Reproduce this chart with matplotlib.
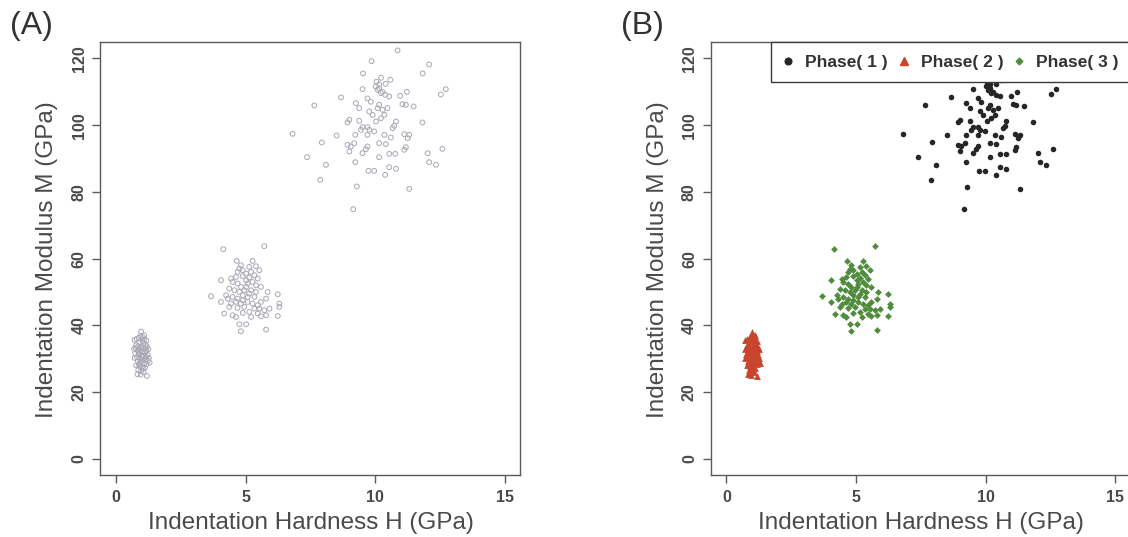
import matplotlib
matplotlib.use("Agg")
import matplotlib.pyplot as plt
from matplotlib.lines import Line2D

plt.rcParams['font.family'] = ['Liberation Sans', 'DejaVu Sans']

# Phase 1: hard phase (H, M in GPa)
phase1_h = [10.86, 9.86, 12.08, 11.83, 9.53, 10.22, 10.58, 10.05, 10.15, 10.40,
            9.51, 10.02, 10.09, 10.22, 10.38, 10.54, 10.15, 10.28, 11.22, 10.96,
            12.53, 12.72, 8.68, 7.65, 9.70, 9.83, 9.25, 9.38, 9.77, 10.15,
            10.09, 10.28, 10.47, 11.05, 11.18, 11.48, 10.35, 10.03, 10.22, 9.90,
            9.00, 8.93, 9.38, 10.80, 10.73, 10.67, 11.82, 9.51, 9.70, 9.77,
            9.96, 9.45, 6.81, 8.51, 9.23, 9.70, 10.35, 10.60, 11.12, 11.31,
            11.25, 7.94, 8.93, 9.06, 9.19, 9.70, 10.15, 10.41, 9.64, 11.18,
            11.12, 9.00, 9.51, 10.54, 10.77, 12.02, 12.59, 7.37, 10.15, 9.23,
            12.08, 12.34, 8.10, 10.54, 10.80, 9.74, 9.96, 10.38, 7.88, 9.29,
            11.31, 9.15]
phase1_m = [122.4, 119.2, 118.2, 115.5, 115.5, 114.2, 113.6, 113.0, 112.2, 112.4,
            110.8, 111.6, 110.6, 109.6, 109.1, 108.6, 111.0, 110.0, 110.0, 108.8,
            109.2, 110.8, 108.3, 105.9, 108.0, 107.0, 106.6, 105.1, 104.1, 106.1,
            105.1, 104.6, 105.1, 106.3, 106.1, 105.6, 103.1, 101.1, 102.1, 103.1,
            101.6, 100.8, 101.3, 101.1, 99.8, 99.1, 100.8, 99.4, 99.4, 98.6,
            98.1, 98.6, 97.4, 96.9, 97.1, 97.1, 97.1, 96.3, 97.3, 97.1,
            96.1, 94.8, 94.1, 93.6, 94.6, 93.6, 94.6, 94.3, 92.8, 93.4,
            92.6, 92.1, 91.6, 91.4, 91.4, 91.6, 92.9, 90.4, 90.4, 88.9,
            88.9, 88.1, 88.1, 87.4, 86.9, 86.3, 86.3, 85.1, 83.6, 81.6,
            80.9, 74.8]

# Phase 2: soft phase
phase2_h = [0.97, 0.72, 0.80, 0.88, 1.02, 1.10, 1.18, 0.92, 1.05, 1.14,
            0.78, 0.86, 0.98, 1.08, 1.20, 1.25, 0.70, 0.83, 0.95, 1.02,
            1.12, 1.17, 0.74, 0.88, 0.99, 1.07, 1.22, 0.72, 0.81, 0.93,
            1.03, 1.15, 1.30, 1.24, 0.85, 0.96, 1.08, 1.18, 0.78, 0.90,
            1.00, 1.12, 0.86, 0.97, 1.06, 0.83, 1.19, 0.95, 1.03, 0.91,
            1.13, 1.00, 0.94, 1.09, 0.76, 1.27, 0.89, 1.04, 0.92, 1.16]
phase2_m = [38.1, 35.6, 35.9, 36.2, 36.5, 35.8, 35.4, 34.9, 34.6, 34.2,
            34.0, 33.7, 33.5, 33.2, 33.6, 32.8, 32.9, 32.5, 32.3, 32.0,
            31.8, 32.4, 31.5, 31.3, 31.0, 30.8, 31.1, 30.2, 30.4, 30.0,
            29.7, 29.9, 28.8, 29.4, 29.2, 28.9, 28.6, 28.3, 28.0, 27.8,
            27.5, 27.3, 26.6, 26.3, 26.0, 25.3, 24.8, 25.2, 35.2, 33.0,
            33.0, 30.5, 36.8, 37.0, 33.2, 30.2, 28.4, 27.0, 31.8, 30.5]

# Phase 3: intermediate phase
phase3_h = [4.14, 5.72, 4.66, 5.27, 4.82, 4.76, 4.89, 5.14, 5.40, 5.53,
            4.69, 5.02, 5.34, 5.47, 5.14, 4.89, 4.05, 4.44, 4.50, 4.69,
            5.08, 5.27, 5.40, 5.59, 5.02, 4.82, 4.37, 4.57, 4.76, 4.95,
            5.21, 5.40, 5.85, 6.24, 3.67, 4.25, 4.31, 4.50, 4.89, 5.08,
            5.34, 5.79, 4.05, 4.63, 4.82, 5.08, 5.27, 5.59, 6.30, 6.30,
            4.37, 4.69, 4.95, 5.34, 5.53, 5.72, 5.92, 4.18, 4.50, 4.89,
            5.14, 5.47, 5.59, 4.63, 6.24, 4.76, 5.02, 4.82, 5.79, 5.02,
            5.21, 4.63, 4.89, 5.14, 4.69, 5.47, 5.21, 4.44, 5.79]
phase3_m = [62.8, 63.7, 59.3, 59.3, 58.0, 57.0, 56.5, 57.5, 57.7, 56.5,
            56.0, 55.5, 55.0, 54.0, 54.3, 54.7, 53.5, 54.0, 53.0, 52.5,
            52.5, 53.0, 52.0, 51.5, 51.5, 51.5, 51.0, 50.5, 50.0, 50.5,
            50.5, 50.0, 50.0, 49.3, 48.7, 49.0, 48.0, 48.5, 49.0, 48.5,
            48.5, 48.0, 47.0, 47.0, 46.5, 47.0, 46.5, 47.0, 46.5, 45.5,
            45.5, 45.2, 45.5, 45.0, 45.0, 44.5, 45.0, 43.5, 43.0, 43.7,
            44.0, 43.5, 42.7, 42.5, 42.8, 40.3, 40.3, 38.2, 38.7, 53.5,
            56.0, 54.5, 47.5, 49.5, 48.0, 46.0, 42.5, 46.5, 43.0]

legend_labels = ['Phase( 1 )', 'Phase( 2 )', 'Phase( 3 )']
x_ticks = [0, 5, 10, 15]
y_ticks = [0, 20, 40, 60, 80, 100, 120]

C1, C2, C3 = '#262626', '#c8442d', '#4f8c3b'
GREY_RING = '#a8a8b6'
AX_COL = '#5a5a5a'
TXT_COL = '#4a4a4a'

fig = plt.figure(figsize=(11.28, 5.37), dpi=100)
fig.patch.set_facecolor('white')

ax_a = fig.add_axes([0.0890, 0.116, 0.3724, 0.805])
ax_b = fig.add_axes([0.6302, 0.116, 0.3724, 0.805])


def style_axes(ax):
    ax.set_xlim(-0.6, 15.6)
    ax.set_ylim(-4.8, 124.8)
    ax.set_xticks(x_ticks)
    ax.set_yticks(y_ticks)
    for sp in ax.spines.values():
        sp.set_color(AX_COL)
        sp.set_linewidth(1.0)
    ax.tick_params(axis='both', direction='out', length=6, width=1.0,
                   color=AX_COL, labelcolor=TXT_COL, labelsize=11.5)
    ax.tick_params(axis='x', pad=5)
    ax.tick_params(axis='y', pad=4)
    for lab in ax.get_xticklabels():
        lab.set_fontweight('bold')
    for lab in ax.get_yticklabels():
        lab.set_fontweight('bold')
        lab.set_rotation(90)
        lab.set_va('center')
    ax.set_xlabel('Indentation Hardness H (GPa)', fontsize=17.5, color=TXT_COL)
    ax.set_ylabel('Indentation Modulus M (GPa)', fontsize=17.5, color=TXT_COL)
    ax.xaxis.set_label_coords(0.501, -0.112)
    ax.xaxis.label.set_va('center')
    ax.yaxis.set_label_coords(-0.127, 0.497)
    ax.yaxis.label.set_va('center')


# (A) all indents, unclassified
for h, m in ((phase1_h, phase1_m), (phase3_h, phase3_m), (phase2_h, phase2_m)):
    ax_a.scatter(h, m, s=12, facecolors='none', edgecolors=GREY_RING,
                 linewidths=0.7, zorder=3)
style_axes(ax_a)

# (B) indents coloured by phase
ax_b.scatter(phase1_h, phase1_m, s=16, color=C1, marker='o', linewidths=0, zorder=3)
ax_b.scatter(phase2_h, phase2_m, s=24, color=C2, marker='^', linewidths=0, zorder=3)
ax_b.scatter(phase3_h, phase3_m, s=12, color=C3, marker='D', linewidths=0, zorder=3)
style_axes(ax_b)

handles = [
    Line2D([], [], linestyle='none', marker='o', markersize=4.8, color=C1),
    Line2D([], [], linestyle='none', marker='^', markersize=6.0, color=C2),
    Line2D([], [], linestyle='none', marker='D', markersize=3.4, color=C3),
]
leg = ax_b.legend(handles, legend_labels, loc='upper right', ncol=3,
                  borderaxespad=0, frameon=True, fancybox=False,
                  prop={'weight': 'bold', 'size': 12.5, 'family': 'Liberation Sans'},
                  handlelength=0.6, handletextpad=0.68, columnspacing=0.62,
                  borderpad=0.7)
leg.get_frame().set_edgecolor('#3a3a3a')
leg.get_frame().set_linewidth(1.0)
leg.get_frame().set_alpha(1.0)
leg.set_zorder(5)
for t in leg.get_texts():
    t.set_color('#333333')

fig.text(10 / 1128, 1 - 26 / 537, '(A)', fontsize=23, color='#333333',
         ha='left', va='center')
fig.text(621 / 1128, 1 - 26 / 537, '(B)', fontsize=23, color='#333333',
         ha='left', va='center')

fig.savefig('out.png', dpi=100, facecolor='white')
